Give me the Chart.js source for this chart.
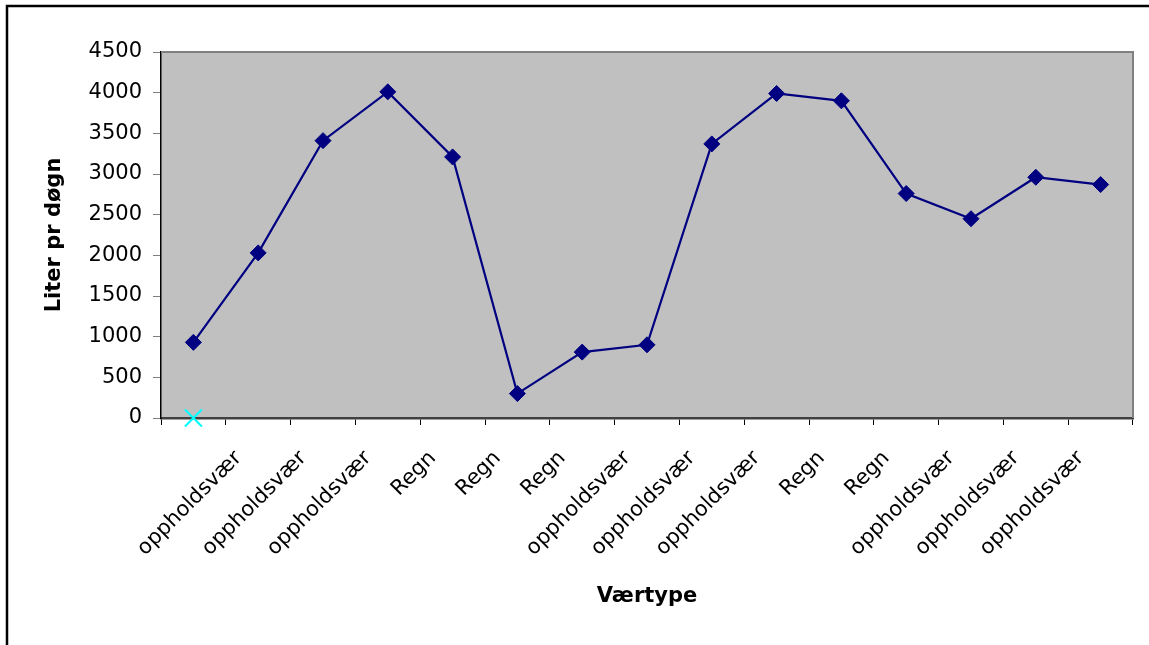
<!DOCTYPE html>
<html>
<head>
<meta charset="utf-8">
<script src="https://cdn.jsdelivr.net/npm/chart.js@4.4.1/dist/chart.umd.min.js"></script>
<style>
  html, body { margin: 0; padding: 0; background: #ffffff; }
  #wrap { width: 1149px; height: 645px; }
</style>
</head>
<body>
<div id="wrap"><canvas id="chart" width="1149" height="645"></canvas></div>
<script>
// Weather type for each measurement day
const categories = [
  'oppholdsvær', 'oppholdsvær', 'oppholdsvær',
  'Regn', 'Regn', 'Regn',
  'oppholdsvær', 'oppholdsvær', 'oppholdsvær',
  'Regn', 'Regn',
  'oppholdsvær', 'oppholdsvær', 'oppholdsvær',
  ''
];
// Litres per day
const literPrDogn = [930, 2030, 3410, 4010, 3210, 300, 810, 900, 3370, 3990, 3900, 2760, 2450, 2960, 2870];
// Second series: only a single zero value on the first day
const nullserie = [0, null, null, null, null, null, null, null, null, null, null, null, null, null, null];
// Y axis range
const yMin = 0;
const yMax = 4500;
const yStep = 500;

const FONT = 'DejaVu Sans';

// Grey plot background, plot frame (top/right) and outer chart frame
const framePlugin = {
  id: 'framePlugin',
  beforeDraw(chart) {
    const { ctx, chartArea: a } = chart;
    ctx.save();
    ctx.fillStyle = '#c0c0c0';
    ctx.fillRect(a.left, a.top, a.right - a.left, a.bottom - a.top);
    ctx.restore();
  },
  afterDraw(chart) {
    const { ctx, chartArea: a } = chart;
    ctx.save();
    ctx.strokeStyle = '#808080';
    ctx.lineWidth = 2;
    ctx.beginPath();
    ctx.moveTo(a.left, a.top);
    ctx.lineTo(a.right, a.top);
    ctx.lineTo(a.right, a.bottom);
    ctx.stroke();
    ctx.strokeStyle = '#000000';
    ctx.lineWidth = 2.5;
    ctx.beginPath();
    ctx.moveTo(7, chart.height);
    ctx.lineTo(7, 6);
    ctx.lineTo(chart.width, 6);
    ctx.stroke();
    ctx.restore();
  }
};

new Chart(document.getElementById('chart'), {
  type: 'line',
  data: {
    labels: categories,
    datasets: [
      {
        label: 'Liter pr døgn',
        data: literPrDogn,
        borderColor: '#000080',
        backgroundColor: '#000080',
        borderWidth: 2.2,
        pointStyle: 'rectRot',
        pointRadius: 8,
        pointHoverRadius: 8,
        pointBorderWidth: 1,
        tension: 0
      },
      {
        label: 'Serie 2',
        data: nullserie,
        borderColor: '#00ffff',
        backgroundColor: '#00ffff',
        showLine: false,
        clip: false,
        pointStyle: 'crossRot',
        pointRadius: 12,
        pointHoverRadius: 12,
        pointBorderWidth: 2
      }
    ]
  },
  options: {
    responsive: false,
    devicePixelRatio: 1,
    animation: false,
    layout: { padding: { top: 52, right: 16, bottom: 20, left: 30 } },
    plugins: {
      legend: { display: false },
      tooltip: { enabled: false }
    },
    scales: {
      x: {
        type: 'category',
        offset: true,
        grid: {
          display: true,
          offset: true,
          drawOnChartArea: false,
          drawTicks: true,
          tickLength: 7,
          color: '#000000',
          lineWidth: 1
        },
        border: { display: true, color: '#404040', width: 2.5 },
        ticks: {
          autoSkip: false,
          minRotation: 45,
          maxRotation: 45,
          labelOffset: 45,
          padding: 21,
          color: '#000000',
          font: { family: FONT, size: 21 }
        },
        title: {
          display: true,
          text: 'Værtype',
          color: '#000000',
          font: { family: FONT, size: 21, weight: 'bold' },
          padding: { top: 0, bottom: 16 }
        },
        afterFit(scale) { scale.height = 207; }
      },
      y: {
        min: yMin,
        max: yMax,
        grid: {
          display: true,
          drawOnChartArea: false,
          drawTicks: true,
          tickLength: 8,
          color: '#808080',
          lineWidth: 1
        },
        border: { display: true, color: '#000000', width: 1.5 },
        ticks: {
          stepSize: yStep,
          padding: 11,
          color: '#000000',
          font: { family: FONT, size: 21 },
          callback: (value) => String(value)
        },
        title: {
          display: true,
          text: 'Liter pr døgn',
          color: '#000000',
          font: { family: FONT, size: 21, weight: 'bold' },
          padding: { top: 12, bottom: 0 }
        },
        afterFit(scale) { scale.width = 131; }
      }
    }
  },
  plugins: [framePlugin]
});
</script>
</body>
</html>
